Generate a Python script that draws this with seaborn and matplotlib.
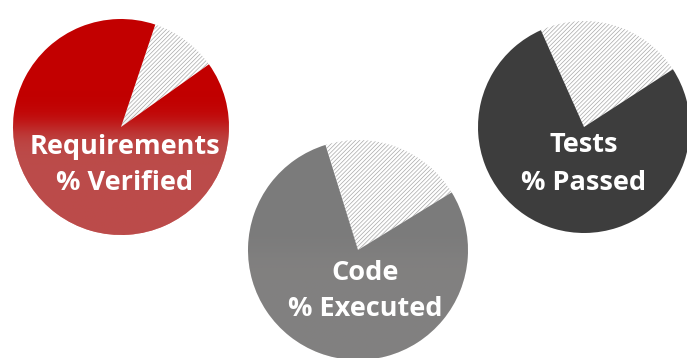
import matplotlib
matplotlib.use("Agg")
import numpy as np
import matplotlib.pyplot as plt
import seaborn as sns
from matplotlib.patches import Circle
from matplotlib.colors import to_rgb

sns.set_theme(style="white")
plt.rcParams['font.family'] = ['Open Sans', 'DejaVu Sans']
plt.rcParams['hatch.linewidth'] = 0.5

# Data
metrics = ["Requirements\n% Verified", "Code\n% Executed", "Tests\n% Passed"]
highlight_share = [10.0, 21.0, 22.5]          # hatched slice (%)
start_angles = [35.5, 31.6, 33.0]             # degrees, counter-clockwise from +x
base_colors = ["#c20000", "#7b7b7b", "#3d3d3d"]

# Layout (pixel-based)
W, H = 687, 358
centers = [(121, H - 127), (358, H - 250), (584, H - 127)]
radii = [108, 110, 106]
text_x_off = [4, 7, 0]
text_y_off = [-38, -41, -37]
shade_alpha = [0.45, 0.12, 0.0]

fig = plt.figure(figsize=(W / 100, H / 100), dpi=100)
ax = fig.add_axes([0, 0, 1, 1])

for i, (label, share) in enumerate(zip(metrics, highlight_share)):
    cx, cy = centers[i]
    r = radii[i]
    wedges, _ = ax.pie(
        [share, 100 - share],
        colors=["white", base_colors[i]],
        startangle=start_angles[i],
        counterclock=True,
        center=(cx, cy),
        radius=r,
        frame=True,
        wedgeprops=dict(linewidth=0),
    )
    wedges[0].set_hatch("////////")
    wedges[0].set_edgecolor("#a8a8a8")
    wedges[0].set_linewidth(0)
    # soft shading on the lower part (vertical gradient clipped to the disc)
    if shade_alpha[i] > 0:
        n = 200
        t = np.linspace(0, 1, n)  # 0 bottom -> 1 top
        a = shade_alpha[i] / (1 + np.exp((t - 0.5) / 0.035))
        rgba = np.zeros((n, 2, 4))
        rgba[..., :3] = to_rgb("#b4aaa6")
        rgba[..., 3] = a[:, None]
        im = ax.imshow(rgba, extent=(cx - r, cx + r, cy - r, cy + r),
                       origin="lower", aspect="auto", zorder=3,
                       interpolation="bilinear")
        im.set_clip_path(Circle((cx, cy), r, transform=ax.transData))
    ax.text(cx + text_x_off[i], cy + text_y_off[i], label, ha="center",
            va="center", color="white", fontsize=19.5, fontweight="bold",
            linespacing=1.55, zorder=5)

ax.set_xlim(0, W)
ax.set_ylim(0, H)
ax.set_aspect("equal")
ax.axis("off")
fig.savefig("out.png", dpi=100)
